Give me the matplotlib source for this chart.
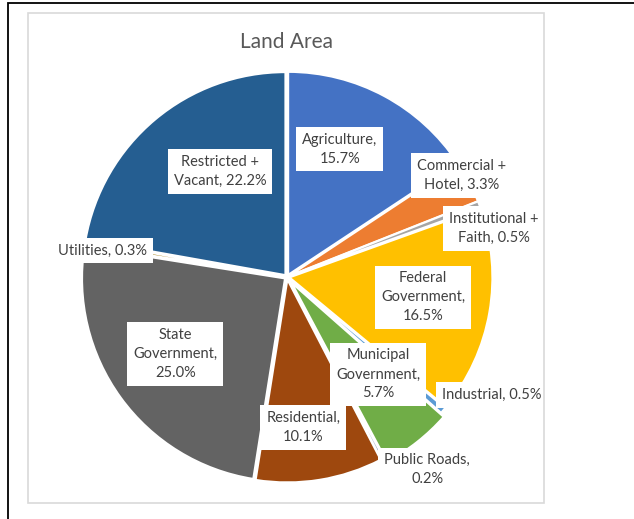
import matplotlib.pyplot as plt
from matplotlib.patches import Rectangle

categories = ["Agriculture", "Commercial + Hotel", "Institutional + Faith",
              "Federal Government", "Industrial", "Municipal Government",
              "Public Roads", "Residential", "State Government", "Utilities",
              "Restricted + Vacant"]
shares = [15.7, 3.3, 0.5, 16.5, 0.5, 5.7, 0.2, 10.1, 25.0, 0.3, 22.2]
colors = ["#4472C4", "#ED7D31", "#A5A5A5", "#FFC000", "#5B9BD5", "#70AD47",
          "#264478", "#9E480E", "#636363", "#997300", "#255E91"]
# data labels as wrapped in the chart
labels = ["Agriculture,\n15.7%", "Commercial +\nHotel, 3.3%", "Institutional +\nFaith, 0.5%",
          "Federal\nGovernment,\n16.5%", "Industrial, 0.5%", "Municipal\nGovernment,\n5.7%",
          "Public Roads,\n0.2%", "Residential,\n10.1%", "State\nGovernment,\n25.0%",
          "Utilities, 0.3%", "Restricted +\nVacant, 22.2%"]

# label layout (pie radius units), one per slice
label_pos = [(0.26, 0.63), (0.86, 0.50), (1.02, 0.24), (0.67, -0.10),
             (1.01, -0.58), (0.45, -0.48), (0.69, -0.95), (0.08, -0.74),
             (-0.55, -0.38), (-0.91, 0.13), (-0.33, 0.52)]
explode = [0.012, 0.012, 0.012, 0.012, 0.012, 0.035, 0.035, 0.012, 0.012, 0.012, 0.012]

plt.rcParams["font.family"] = ["Lato", "DejaVu Sans"]

W, H = 634, 519
cx, cy, R = 287, 277, 203
fig = plt.figure(figsize=(W / 100, H / 100), dpi=100)

# outer frame (left and top edges visible) and chart border
fig.patches.append(Rectangle((8 / W, -0.1), 1.2, (H - 3) / H + 0.1, transform=fig.transFigure,
                             fill=False, edgecolor="black", linewidth=1.3))
fig.patches.append(Rectangle((28 / W, 1 - 503 / H), (544 - 28) / W, (503 - 13) / H,
                             transform=fig.transFigure, fill=False,
                             edgecolor="#D9D9D9", linewidth=1.2))

ax = fig.add_axes([0, 0, 1, 1])
ax.pie(shares, colors=colors, startangle=90, counterclock=False, explode=explode,
       wedgeprops=dict(edgecolor="white", linewidth=1.5))
ax.set_xlim(-cx / R, (W - cx) / R)
ax.set_ylim(-(H - cy) / R, cy / R)
ax.set_aspect("auto")
ax.axis("off")

for lab, (x, y) in zip(labels, label_pos):
    ax.text(x, y, lab, ha="center", va="center", fontsize=10.5,
            color="#404040", linespacing=1.45,
            bbox=dict(facecolor="white", edgecolor="none", boxstyle="square,pad=0.4"))

fig.text(287 / W, 1 - 42 / H, "Land Area", ha="center", va="center",
         fontsize=15, color="#595959")

fig.savefig("out.png", dpi=100)
